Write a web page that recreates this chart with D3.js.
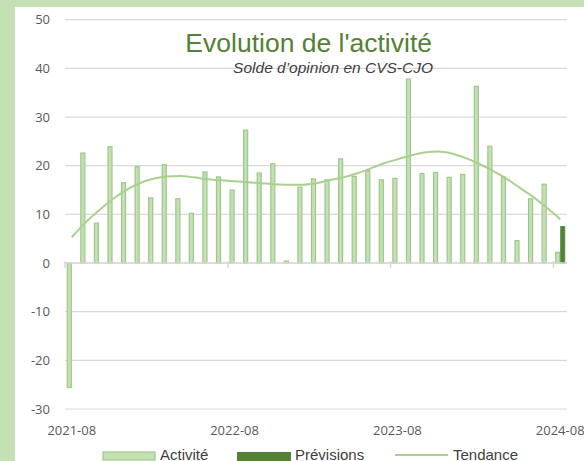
<!DOCTYPE html>
<html>
<head>
<meta charset="utf-8">
<script src="https://cdn.jsdelivr.net/npm/d3@7"></script>
<style>
  body { margin: 0; background: #c5e0b4; overflow: hidden; }
  #chart { width: 584px; height: 461px; }
  .tick_label { font-family: "Open Sans", sans-serif; font-size: 13px; fill: #595959; }
  .legend_label { font-family: "Liberation Sans", Arial, sans-serif; font-size: 15px; fill: #404040; }
</style>
</head>
<body>
<div id="chart"></div>
<script>
var width = 584, height = 461;
var margin = {top: 19.7, bottom: 52, left: 65, right: 17};

// categories (one per month)
var months = ["2021-08","2021-09","2021-10","2021-11","2021-12","2022-01","2022-02","2022-03",
  "2022-04","2022-05","2022-06","2022-07","2022-08","2022-09","2022-10","2022-11","2022-12",
  "2023-01","2023-02","2023-03","2023-04","2023-05","2023-06","2023-07","2023-08","2023-09",
  "2023-10","2023-11","2023-12","2024-01","2024-02","2024-03","2024-04","2024-05","2024-06",
  "2024-07","2024-08"];

var activite = [-25.6, 22.6, 8.2, 23.9, 16.5, 19.8, 13.4, 20.2, 13.2, 10.2, 18.7, 17.7,
  15.0, 27.3, 18.5, 20.4, 0.4, 15.6, 17.3, 17.1, 21.4, 17.8, 19.0, 17.1, 17.4, 37.8,
  18.4, 18.6, 17.6, 18.2, 36.3, 24.0, 17.7, 4.6, 13.2, 16.2, 2.2];

var previsions = [null, null, null, null, null, null, null, null, null, null, null, null,
  null, null, null, null, null, null, null, null, null, null, null, null, null, null,
  null, null, null, null, null, null, null, null, null, null, 7.5];

var tendance = [5.3, 8.3, 10.8, 13.1, 15.0, 16.4, 17.3, 17.8, 17.9, 17.6, 17.2, 17.0,
  16.8, 16.6, 16.4, 16.2, 16.1, 16.1, 16.4, 17.0, 17.6, 18.4, 19.4, 20.5, 21.3, 22.1,
  22.7, 22.9, 22.5, 21.6, 20.4, 19.0, 17.4, 15.5, 13.6, 11.4, 9.0];

var yTicks = [-30, -20, -10, 0, 10, 20, 30, 40, 50];
var xLabels = ["2021-08", "2022-08", "2023-08", "2024-08"];

var svg = d3.select("#chart")
            .append("svg")
            .attr("width", width)
            .attr("height", height);

// white panel
svg.append("rect")
   .attr("x", 15).attr("y", 7)
   .attr("width", width - 15).attr("height", height - 7)
   .attr("fill", "#ffffff");

var yScale = d3.scaleLinear()
               .domain([-30, 50])
               .range([409, margin.top]);

var xScale = d3.scaleBand()
               .domain(months)
               .range([margin.left, width - margin.right]);

var xSub = d3.scaleBand()
             .domain(["act", "prev"])
             .range([0, xScale.bandwidth()])
             .paddingInner(0)
             .paddingOuter(0.35);

// gridlines
svg.append("g")
   .selectAll("line")
   .data(yTicks)
   .enter().append("line")
   .attr("x1", margin.left)
   .attr("x2", width - margin.right)
   .attr("y1", function(d) { return yScale(d); })
   .attr("y2", function(d) { return yScale(d); })
   .attr("stroke", "#d9d9d9")
   .attr("stroke-width", 1.2);

// y labels
svg.append("g")
   .selectAll("text")
   .data(yTicks)
   .enter().append("text")
   .attr("class", "tick_label")
   .attr("x", 50)
   .attr("y", function(d) { return yScale(d); })
   .attr("dy", "0.35em")
   .attr("text-anchor", "end")
   .text(function(d) { return d; });

// activite bars
svg.append("g")
   .selectAll("rect")
   .data(activite)
   .enter().append("rect")
   .attr("x", function(d, i) { return xScale(months[i]) + xSub("act") + 0.5; })
   .attr("y", function(d) { return yScale(Math.max(0, d)); })
   .attr("width", xSub.bandwidth() - 1)
   .attr("height", function(d) { return Math.abs(yScale(d) - yScale(0)); })
   .attr("fill", "#c5e0b4")
   .attr("stroke", "#9dc88a")
   .attr("stroke-width", 1.2);

// previsions bars
svg.append("g")
   .selectAll("rect")
   .data(previsions.map(function(d, i) { return {m: months[i], v: d}; })
                   .filter(function(d) { return d.v != null; }))
   .enter().append("rect")
   .attr("x", function(d) { return xScale(d.m) + xSub("prev") + 0.5; })
   .attr("y", function(d) { return yScale(Math.max(0, d.v)); })
   .attr("width", xSub.bandwidth() - 1)
   .attr("height", function(d) { return Math.abs(yScale(d.v) - yScale(0)); })
   .attr("fill", "#548235")
   .attr("stroke", "#5a8f3a")
   .attr("stroke-width", 1);

// zero axis
svg.append("line")
   .attr("x1", margin.left).attr("x2", width - margin.right)
   .attr("y1", yScale(0)).attr("y2", yScale(0))
   .attr("stroke", "#d9d9d9")
   .attr("stroke-width", 1.5);

// ticks at category starts of labelled months
svg.append("g")
   .selectAll("line")
   .data(xLabels)
   .enter().append("line")
   .attr("x1", function(d) { return xScale(d); })
   .attr("x2", function(d) { return xScale(d); })
   .attr("y1", yScale(0) - 2)
   .attr("y2", yScale(0) + 5)
   .attr("stroke", "#d9d9d9")
   .attr("stroke-width", 1.5);

// trend line
var line = d3.line()
             .x(function(d, i) { return xScale(months[i]) + xScale.bandwidth() / 2; })
             .y(function(d) { return yScale(d); })
             .curve(d3.curveMonotoneX);

svg.append("path")
   .datum(tendance)
   .attr("d", line)
   .attr("fill", "none")
   .attr("stroke", "#a9d18e")
   .attr("stroke-width", 2);

// x labels
svg.append("g")
   .selectAll("text")
   .data(xLabels)
   .enter().append("text")
   .attr("class", "tick_label")
   .attr("x", function(d) { return xScale(d) + xScale.bandwidth() / 2; })
   .attr("y", 435)
   .attr("text-anchor", "middle")
   .text(function(d) { return d; });

// title & subtitle
svg.append("text")
   .attr("x", 432)
   .attr("y", 52)
   .attr("text-anchor", "end")
   .style("font-family", "Liberation Sans, Arial, sans-serif")
   .style("font-size", "26.5px")
   .attr("fill", "#538135")
   .text("Evolution de l'activité");

svg.append("text")
   .attr("x", 433)
   .attr("y", 73)
   .attr("text-anchor", "end")
   .style("font-family", "Liberation Sans, Arial, sans-serif")
   .style("font-size", "15.5px")
   .style("font-style", "italic")
   .attr("fill", "#404040")
   .text("Solde d\u2019opinion en CVS-CJO");

// legend
var legend = svg.append("g");
legend.append("rect")
      .attr("x", 103).attr("y", 452)
      .attr("width", 52).attr("height", 8)
      .attr("fill", "#c5e0b4")
      .attr("stroke", "#9dc88a")
      .attr("stroke-width", 1.2);
legend.append("text")
      .attr("class", "legend_label")
      .attr("x", 160).attr("y", 460)
      .text("Activité");
legend.append("rect")
      .attr("x", 237).attr("y", 452)
      .attr("width", 54).attr("height", 9)
      .attr("fill", "#548235");
legend.append("text")
      .attr("class", "legend_label")
      .attr("x", 295).attr("y", 460)
      .text("Prévisions");
legend.append("line")
      .attr("x1", 395).attr("x2", 448)
      .attr("y1", 455).attr("y2", 455)
      .attr("stroke", "#a9d18e")
      .attr("stroke-width", 2);
legend.append("text")
      .attr("class", "legend_label")
      .attr("x", 453).attr("y", 460)
      .text("Tendance");
</script>
</body>
</html>
